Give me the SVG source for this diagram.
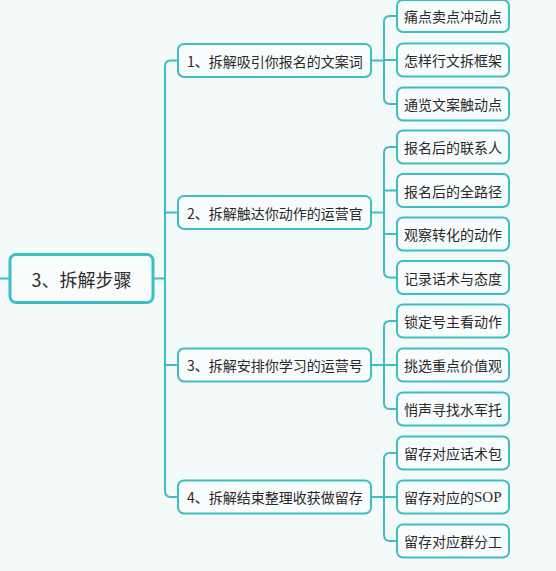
<svg xmlns="http://www.w3.org/2000/svg" width="556" height="571" viewBox="0 0 556 571">
<style>
.bg{fill:#f4f9f9}
.box{fill:#f9fcfc;stroke:#3bbfc4;stroke-width:2}
.root{fill:#f9fcfc;stroke:#3bbfc4;stroke-width:3}
.ln{fill:none;stroke:#3bbfc4;stroke-width:2}
text{font-family:"Microsoft YaHei","Noto Sans CJK SC","Noto Sans",sans-serif;fill:#2a2a2a;dominant-baseline:central}
.t1{font-size:14px}
.t0{font-size:18px}
.serif{font-family:"Liberation Serif",serif;font-size:15px}
</style>
<rect class="bg" x="0" y="0" width="556" height="571"/>
<g id="connectors">
<path class="ln" d="M0,278.5 H10"/>
<path class="ln" d="M153,278.5 H165"/>
<path class="ln" d="M178,60.5 H171 Q165,60.5 165,66.5 V491 Q165,497 171,497 H178"/>
<path class="ln" d="M165,212.5 H178 M165,365 H178"/>
<path class="ln" d="M371,60.5 H384"/>
<path class="ln" d="M397,16 H390 Q384,16 384,22 V98 Q384,104 390,104 H397 M384,60 H397"/>
<path class="ln" d="M371,212.5 H384"/>
<path class="ln" d="M397,147 H390 Q384,147 384,153 V271.5 Q384,277.5 390,277.5 H397 M384,190.5 H397 M384,234 H397"/>
<path class="ln" d="M371,365 H384"/>
<path class="ln" d="M397,321 H390 Q384,321 384,327 V403 Q384,409 390,409 H397 M384,365 H397"/>
<path class="ln" d="M371,497 H384"/>
<path class="ln" d="M397,453 H390 Q384,453 384,459 V535 Q384,541 390,541 H397 M384,497 H397"/>
</g>
<g id="root"><rect class="root" x="10" y="254.5" width="143" height="48" rx="6"/><text class="t0" x="81.5" y="278.5" text-anchor="middle">3、拆解步骤</text></g>
<g id="n1"><rect class="box" x="178" y="44" width="193" height="33" rx="6"/><text class="t1" x="187" y="60.5">1、拆解吸引你报名的文案词</text></g>
<g id="n2"><rect class="box" x="178" y="196" width="193" height="33" rx="6"/><text class="t1" x="187" y="212.5">2、拆解触达你动作的运营官</text></g>
<g id="n3"><rect class="box" x="178" y="348.5" width="193" height="33" rx="6"/><text class="t1" x="187" y="365">3、拆解安排你学习的运营号</text></g>
<g id="n4"><rect class="box" x="178" y="480.5" width="193" height="33" rx="6"/><text class="t1" x="187" y="497">4、拆解结束整理收获做留存</text></g>
<g id="c11"><rect class="box" x="397" y="0" width="112" height="32" rx="6"/><text class="t1" x="453" y="16" text-anchor="middle">痛点卖点冲动点</text></g>
<g id="c12"><rect class="box" x="397" y="43.5" width="112" height="33" rx="6"/><text class="t1" x="453" y="60" text-anchor="middle">怎样行文拆框架</text></g>
<g id="c13"><rect class="box" x="397" y="87.5" width="112" height="33" rx="6"/><text class="t1" x="453" y="104" text-anchor="middle">通览文案触动点</text></g>
<g id="c21"><rect class="box" x="397" y="130.5" width="112" height="33" rx="6"/><text class="t1" x="453" y="147" text-anchor="middle">报名后的联系人</text></g>
<g id="c22"><rect class="box" x="397" y="174" width="112" height="33" rx="6"/><text class="t1" x="453" y="190.5" text-anchor="middle">报名后的全路径</text></g>
<g id="c23"><rect class="box" x="397" y="217.5" width="112" height="33" rx="6"/><text class="t1" x="453" y="234" text-anchor="middle">观察转化的动作</text></g>
<g id="c24"><rect class="box" x="397" y="261" width="112" height="33" rx="6"/><text class="t1" x="453" y="277.5" text-anchor="middle">记录话术与态度</text></g>
<g id="c31"><rect class="box" x="397" y="304.5" width="112" height="33" rx="6"/><text class="t1" x="453" y="321" text-anchor="middle">锁定号主看动作</text></g>
<g id="c32"><rect class="box" x="397" y="348.5" width="112" height="33" rx="6"/><text class="t1" x="453" y="365" text-anchor="middle">挑选重点价值观</text></g>
<g id="c33"><rect class="box" x="397" y="392.5" width="112" height="33" rx="6"/><text class="t1" x="453" y="409" text-anchor="middle">悄声寻找水军托</text></g>
<g id="c41"><rect class="box" x="397" y="436.5" width="112" height="33" rx="6"/><text class="t1" x="453" y="453" text-anchor="middle">留存对应话术包</text></g>
<g id="c42"><rect class="box" x="397" y="480.5" width="112" height="33" rx="6"/><text class="t1" x="404" y="497">留存对应的<tspan class="serif">SOP</tspan></text></g>
<g id="c43"><rect class="box" x="397" y="524.5" width="112" height="33" rx="6"/><text class="t1" x="453" y="541" text-anchor="middle">留存对应群分工</text></g>
</svg>
